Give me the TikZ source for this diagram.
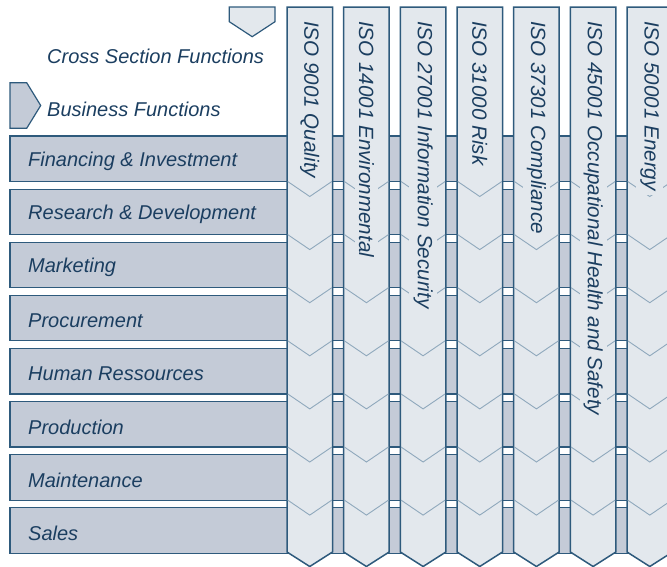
\documentclass[tikz,border=0pt]{standalone}
\usepackage{fontspec}
\setmainfont{Liberation Sans}
\definecolor{rowfill}{HTML}{C4CBD7}
\definecolor{colfill}{HTML}{E3E8ED}
\definecolor{bordercol}{HTML}{2E5A7C}
\definecolor{chevcol}{HTML}{8FA8BC}
\definecolor{textcol}{HTML}{1B3E60}
\tikzset{
  rowbar/.style={fill=rowfill, draw=bordercol, line width=1.2pt},
  colbar/.style={fill=colfill, draw=bordercol, line width=1.5pt, line join=miter},
  legdown/.style={fill=colfill, draw=bordercol, line width=1.2pt},
  legright/.style={fill=rowfill, draw=bordercol, line width=1.2pt},
  chev/.style={draw=chevcol, line width=0.9pt},
  lbl/.style={font=\fontsize{20}{24}\selectfont\itshape, text=textcol, inner sep=0pt, anchor=west},
  collbl/.style={font=\fontsize{20.6}{24}\selectfont\itshape, text=textcol, fill=colfill, inner sep=4pt, rotate=-90, anchor=west}
}
\begin{document}
\begin{tikzpicture}[x=1pt,y=-1pt]
\useasboundingbox (0,0) rectangle (667,566);
% legend
\draw[legdown] (229.3,7) -- (275,7) -- (275,21.7) -- (252.2,36.7) -- (229.3,21.7) -- cycle;
\node[lbl] (cross) at (47,56) {Cross Section Functions};
\draw[legright] (10,82.7) -- (26.7,82.7) -- (40.7,105.5) -- (26.7,128.3) -- (10,128.3) -- cycle;
\node[lbl] (business) at (47,109.5) {Business Functions};
% rows
\foreach \t [count=\i from 0] in {Financing \& Investment, Research \& Development, Marketing, Procurement, Human Ressources, Production, Maintenance, Sales}{
  \pgfmathsetmacro\yt{136+53.1*\i}
  \draw[rowbar] (10,\yt) rectangle (672,\yt+45.5);
  \node[lbl] (row\i) at (28,\yt+25.5) {\t};
}
% columns
\foreach \t [count=\j from 0] in {ISO 9001 Quality, ISO 14001 Environmental, ISO 27001 Information Security, ISO 31000 Risk, ISO 37301 Compliance, ISO 45001 Occupational Health and Safety, ISO 50001 Energy}{
  \pgfmathsetmacro\xl{287+56.67*\j}
  \draw[colbar] (\xl,7) -- ++(45.5,0) -- ++(0,545) -- ++(-22.75,14.5) -- ++(-22.75,-14.5) -- cycle;
  \foreach \k in {0,...,6}{
    \pgfmathsetmacro\yb{136+53.1*\k+45.5}
    \draw[chev] (\xl+0.7,\yb) -- ++(22.05,15) -- ++(22.05,-15);
  }
  \node[collbl] (col\j) at (\xl+22.75,17) {\t};
}
\end{tikzpicture}
\end{document}
